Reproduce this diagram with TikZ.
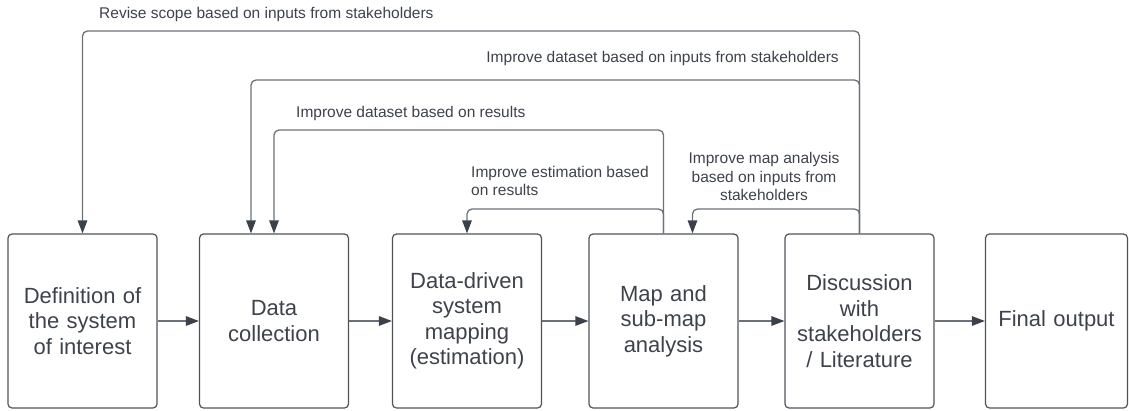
\documentclass[tikz,border=0pt]{standalone}
\usepackage{fontspec}
\setmainfont{Liberation Sans}
\usetikzlibrary{arrows.meta}
\definecolor{boxgray}{HTML}{4E535B}
\definecolor{linegray}{HTML}{6C7178}
\definecolor{tipgray}{HTML}{3A414B}
\definecolor{txtgray}{HTML}{3D424B}

\begin{document}
\begin{tikzpicture}[x=1pt,y=-1pt,
    box/.style={draw=boxgray, line width=1.2pt, rounded corners=4pt,
        minimum width=149pt, minimum height=174pt, inner sep=0pt,
        align=center, text width=140pt, text=txtgray,
        font=\fontsize{22}{25.5}\selectfont},
    flow/.style={draw=linegray, line width=1.3pt,
        -{Triangle[length=13pt,width=9.5pt,color=tipgray]}},
    fb/.style={flow, rounded corners=5pt},
    lbl/.style={inner sep=0pt, text=txtgray,
        font=\fontsize{15.5}{18.5}\selectfont}]
    \useasboundingbox (0,0) rectangle (1129,410);
    \clip (0,0) rectangle (1129,410);
    \node[box] (defn)  at (82.5,321)  {Definition of\\the system\\of interest};
    \node[box] (data)  at (274,321)   {Data\\collection};
    \node[box] (ddsm)  at (467,321)   {Data-driven\\system\\mapping\\(estimation)};
    \node[box] (mapan) at (663.5,321) {Map and\\sub-map\\analysis};
    \node[box] (stake) at (859.5,321) {Discussion\\with\\stakeholders\\/ Literature};
    \node[box, minimum width=142pt, text width=136pt] (final) at (1056.5,321) {Final output};
    % main flow
    \draw[flow] (defn) -- (data);
    \draw[flow] (data) -- (ddsm);
    \draw[flow] (ddsm) -- (mapan);
    \draw[flow] (mapan) -- (stake);
    \draw[flow] (stake) -- (final);
    % feedback loops
    \draw[fb] (stake.north) -- (stake.north |- 0,31) -| (defn.north);
    \draw[fb] (stake.north) -- (stake.north |- 0,80) -| ([xshift=-23pt]data.north);
    \draw[fb] (mapan.north) -- (mapan.north |- 0,130) -| (data.north);
    \draw[fb] (mapan.north) -- (mapan.north |- 0,209) -| (ddsm.north);
    \draw[fb] (stake.north) -- (stake.north |- 0,209) -| ([xshift=29pt]mapan.north);
    \node[lbl, anchor=west] (revlbl) at (99,14) {Revise scope based on inputs from stakeholders};
    \node[lbl, anchor=east] (dslbl) at (839,58) {Improve dataset based on inputs from stakeholders};
    \node[lbl, anchor=west] (reslbl) at (296,113) {Improve dataset based on results};
    \node[lbl, anchor=west, align=left] (estlbl) at (471,181) {Improve estimation based\\on results};
    \node[lbl, align=center] (maplbl) at (764,176.5) {Improve map analysis\\based on inputs from\\stakeholders};
\end{tikzpicture}
\end{document}
